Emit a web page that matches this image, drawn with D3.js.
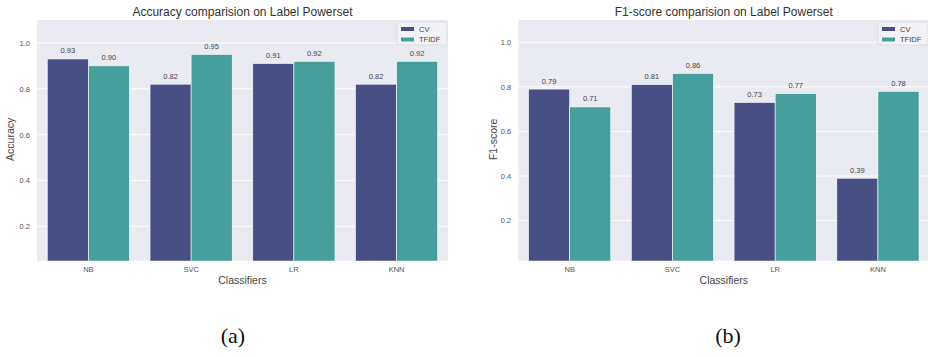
<!DOCTYPE html>
<html>
<head>
<meta charset="utf-8">
<script src="https://cdn.jsdelivr.net/npm/d3@7"></script>
<style>
  html, body { margin: 0; padding: 0; background: #ffffff; }
  svg { display: block; }
  .sans { font-family: "Liberation Sans", Arial, Helvetica, sans-serif; }
</style>
</head>
<body>
<svg id="chart" width="928" height="357"></svg>
<script>
// Classifiers and the two vectorisers compared
const classifiers = ["NB", "SVC", "LR", "KNN"];
const vectorisers = ["CV", "TFIDF"];

// Accuracy per classifier
const accuracyCV    = [0.93, 0.82, 0.91, 0.82];
const accuracyTFIDF = [0.90, 0.95, 0.92, 0.92];

// F1-score per classifier
const f1CV    = [0.79, 0.81, 0.73, 0.39];
const f1TFIDF = [0.71, 0.86, 0.77, 0.78];

const yTicks = [0.2, 0.4, 0.6, 0.8, 1.0];
const colors = ["#484f85", "#479f9c"];

const svg = d3.select("#chart");

function drawPanel(cfg) {
  const g = svg.append("g");
  const x = d3.scaleBand().domain(classifiers).range([cfg.left, cfg.right]).padding(0);
  const groupW = x.bandwidth() * 0.8;
  const xs = d3.scaleBand().domain(vectorisers).range([0, groupW]).padding(0);
  const y = d3.scaleLinear().domain(cfg.yDomain).range([cfg.bottom, cfg.top]);

  // plot background
  g.append("rect")
    .attr("x", cfg.left).attr("y", cfg.top)
    .attr("width", cfg.right - cfg.left).attr("height", cfg.bottom - cfg.top)
    .attr("fill", "#eaeaf2");

  // horizontal grid
  g.selectAll(".grid").data(yTicks).join("line")
    .attr("x1", cfg.left).attr("x2", cfg.right)
    .attr("y1", d => y(d)).attr("y2", d => y(d))
    .attr("stroke", "#ffffff").attr("stroke-width", 1);

  // y axis ticks (labels only)
  const yAxis = d3.axisLeft(y).tickValues(yTicks).tickFormat(d3.format(".1f")).tickSize(0).tickPadding(7);
  const ya = g.append("g").attr("transform", `translate(${cfg.left},0)`).call(yAxis);
  ya.select(".domain").remove();
  ya.selectAll("text").attr("class", "sans").attr("font-size", 7.5).attr("fill", "#555");

  // x axis labels
  const xAxis = d3.axisBottom(x).tickSize(0).tickPadding(6);
  const xa = g.append("g").attr("transform", `translate(0,${cfg.bottom})`).call(xAxis);
  xa.select(".domain").remove();
  xa.selectAll("text").attr("class", "sans").attr("font-size", 7.5).attr("fill", "#555");

  const clip = "clip-" + cfg.id;
  svg.append("clipPath").attr("id", clip).append("rect")
    .attr("x", cfg.left).attr("y", cfg.top)
    .attr("width", cfg.right - cfg.left).attr("height", cfg.bottom - cfg.top);

  const rows = [];
  cfg.series.forEach((vals, si) => {
    vals.forEach((v, ci) => rows.push({ c: classifiers[ci], s: vectorisers[si], si, v }));
  });

  const bars = g.append("g").attr("clip-path", `url(#${clip})`);
  bars.selectAll("rect").data(rows).join("rect")
    .attr("x", d => x(d.c) + (x.bandwidth() - groupW) / 2 + xs(d.s))
    .attr("width", xs.bandwidth())
    .attr("y", d => y(d.v))
    .attr("height", d => y(0) - y(d.v))
    .attr("fill", d => colors[d.si])
    .attr("stroke", "#ffffff").attr("stroke-width", 0.6);

  // value labels
  g.selectAll(".val").data(rows).join("text")
    .attr("class", "sans")
    .attr("x", d => x(d.c) + (x.bandwidth() - groupW) / 2 + xs(d.s) + xs.bandwidth() / 2)
    .attr("y", d => y(d.v) - 5.5)
    .attr("text-anchor", "middle")
    .attr("font-size", 7.5).attr("fill", "#444")
    .text(d => d3.format(".2f")(d.v));

  const cx = (cfg.left + cfg.right) / 2;
  // title
  g.append("text").attr("class", "sans")
    .attr("x", cx).attr("y", 15.5).attr("text-anchor", "middle")
    .attr("font-size", 12).attr("fill", "#333").text(cfg.title);
  // x label
  g.append("text").attr("class", "sans")
    .attr("x", cx).attr("y", 284).attr("text-anchor", "middle")
    .attr("font-size", 10.5).attr("fill", "#444").text("Classifiers");
  // y label
  g.append("text").attr("class", "sans")
    .attr("transform", `translate(${cfg.yLabelX},${(cfg.top + cfg.bottom) / 2 - 1}) rotate(-90)`)
    .attr("text-anchor", "middle")
    .attr("font-size", 10.5).attr("fill", "#444").text(cfg.yLabel);

  // legend
  const lg = g.append("g").attr("transform", `translate(${cfg.legendX},22)`);
  lg.append("rect").attr("x", 0).attr("y", 0).attr("width", 50).attr("height", 23)
    .attr("rx", 2).attr("fill", "#f2f2f7").attr("stroke", "#d6d6de").attr("stroke-width", 0.7);
  vectorisers.forEach((s, i) => {
    lg.append("rect").attr("x", 4).attr("y", 5 + i * 10.5).attr("width", 13).attr("height", 4)
      .attr("fill", colors[i]);
    lg.append("text").attr("class", "sans").attr("x", 22).attr("y", 9.8 + i * 10.5)
      .attr("font-size", 7.5).attr("fill", "#444").text(s);
  });

  // sub-figure caption
  svg.append("text")
    .attr("x", cfg.captionX).attr("y", 343)
    .attr("text-anchor", "middle")
    .attr("font-family", "'Liberation Serif', 'DejaVu Serif', serif")
    .attr("font-size", 22).attr("fill", "#111").text(cfg.caption);
}

drawPanel({
  id: "acc", left: 37, right: 448, top: 20, bottom: 260.7,
  yDomain: [0.05, 1.1], series: [accuracyCV, accuracyTFIDF],
  title: "Accuracy comparision on Label Powerset", yLabel: "Accuracy",
  yLabelX: 14, legendX: 397, caption: "(a)", captionX: 233
});

drawPanel({
  id: "f1", left: 518.3, right: 929.3, top: 20, bottom: 260.7,
  yDomain: [0.02, 1.1], series: [f1CV, f1TFIDF],
  title: "F1-score comparision on Label Powerset", yLabel: "F1-score",
  yLabelX: 497, legendX: 878, caption: "(b)", captionX: 728
});
</script>
</body>
</html>
